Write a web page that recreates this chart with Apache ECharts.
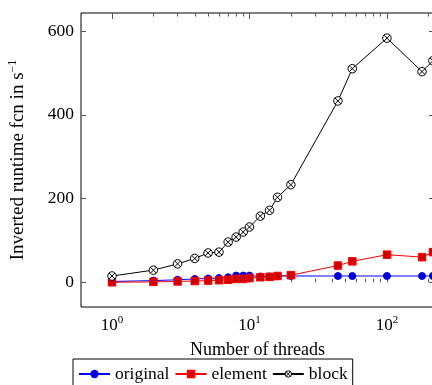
<!DOCTYPE html>
<html>
<head>
<meta charset="utf-8">
<script src="https://cdn.jsdelivr.net/npm/echarts@6/dist/echarts.min.js"></script>
<style>
  html, body { margin: 0; padding: 0; background: #fff; }
  #main { width: 432px; height: 385px; }
</style>
</head>
<body>
<div id="main"></div>
<script>
// data
var threads = [1, 2, 3, 4, 5, 6, 7, 8, 9, 10, 12, 14, 16, 20, 44, 56, 100, 180, 216];
var original = [2, 4, 6, 8, 9, 10, 12, 16, 16, 16, 14, 14, 15, 15, 15, 15, 15, 15, 15];
var element = [0, 1, 2, 3, 4, 5, 6, 8, 8, 10, 12, 13, 15, 17, 40, 50, 66, 60, 72];
var block = [15, 29, 44, 57, 70, 72, 96, 108, 120, 132, 158, 172, 203, 233, 433, 510, 583, 503, 529];
var xMajor = [1, 10, 100];
var xMinor = [2, 3, 4, 5, 6, 7, 8, 9, 20, 30, 40, 50, 60, 70, 80, 90, 200];
var yTicks = [0, 200, 400, 600];

function pairs(ys) {
  var out = [];
  for (var i = 0; i < threads.length; i++) out.push([threads[i], ys[i]]);
  return out;
}

var font = "'Liberation Serif', 'DejaVu Serif', serif";
var fs = 18;
var otimes = "path://M0,-10A10,10 0 1,1 0,10A10,10 0 1,1 0,-10Z M-7.07,-7.07L7.07,7.07 M-7.07,7.07L7.07,-7.07";
var xMin = 0.595, xMax = 220;
var yMin = -59, yMax = 643;

var chart = echarts.init(document.getElementById("main"));

// one x axis for labels + major ticks, copies for minor ticks and the top side
function xAxisOf(pos, ticks, len, labels) {
  return {
    type: "log",
    logBase: 10,
    position: pos,
    min: xMin,
    max: xMax,
    axisLine: { show: false },
    splitLine: { show: false },
    minorTick: { show: false },
    axisTick: {
      show: true,
      inside: true,
      length: len,
      customValues: ticks,
      lineStyle: { color: "#555", width: 1 },
    },
    axisLabel: labels
      ? {
          show: true,
          customValues: xMajor,
          margin: 8,
          fontFamily: font,
          fontSize: 17,
          color: "#000",
          formatter: function (v) {
            return "10{s|" + Math.round(Math.log10(v)) + "}";
          },
          rich: {
            s: { fontFamily: font, fontSize: 11, color: "#000", padding: [0, 0, 10, 0] },
          },
        }
      : { show: false },
    name: labels ? "Number of threads" : "",
    nameLocation: "middle",
    nameGap: 34,
    nameTextStyle: { fontFamily: font, fontSize: fs, color: "#000" },
  };
}

function yAxisOf(pos, labels) {
  return {
    type: "value",
    position: pos,
    min: yMin,
    max: yMax,
    axisLine: { show: false },
    splitLine: { show: false },
    axisTick: {
      show: true,
      inside: true,
      length: 5,
      customValues: yTicks,
      lineStyle: { color: "#555", width: 1 },
    },
    axisLabel: labels
      ? {
          show: true,
          customValues: yTicks,
          margin: 7,
          fontFamily: font,
          fontSize: 17.5,
          color: "#000",
        }
      : { show: false },
    name: labels ? "Inverted runtime fcn in s{s|−1}" : "",
    nameLocation: "middle",
    nameGap: 52,
    nameTextStyle: {
      fontFamily: font,
      fontSize: 19,
      color: "#000",
      rich: {
        s: { fontFamily: font, fontSize: 12, color: "#000", padding: [0, 0, 10, 0] },
      },
    },
  };
}

var option = {
  animation: false,
  backgroundColor: "#fff",
  grid: {
    left: 81,
    right: -2,
    top: 13,
    bottom: 78,
    outerBoundsMode: "none",
    containLabel: false,
    show: true,
    borderColor: "#000",
    borderWidth: 1,
    backgroundColor: "transparent",
  },
  xAxis: [
    xAxisOf("bottom", xMajor, 6, true),
    xAxisOf("bottom", xMinor, 3.5, false),
    xAxisOf("top", xMajor, 6, false),
    xAxisOf("top", xMinor, 3.5, false),
  ],
  yAxis: [yAxisOf("left", true), yAxisOf("right", false)],
  legend: {
    left: 73,
    top: 359,
    orient: "horizontal",
    itemWidth: 31,
    itemHeight: 8,
    itemGap: 5,
    padding: [6, 5, 8, 5],
    borderColor: "#000",
    borderWidth: 1,
    borderRadius: 0,
    textStyle: { fontFamily: font, fontSize: 17.5, color: "#000" },
    data: [
      "original",
      "element",
      { name: "block", itemStyle: { color: "#fff", borderColor: "#000", borderWidth: 1 } },
    ],
  },
  series: [
    {
      name: "original",
      type: "line",
      data: pairs(original),
      symbol: "circle",
      symbolSize: 7,
      lineStyle: { color: "#0000ff", width: 1 },
      itemStyle: { color: "#0000cc", borderColor: "#0000ff", borderWidth: 1 },
    },
    {
      name: "element",
      type: "line",
      data: pairs(element),
      symbol: "rect",
      symbolSize: 7.5,
      lineStyle: { color: "#ff0000", width: 1 },
      itemStyle: { color: "#cc0000", borderColor: "#ff0000", borderWidth: 1 },
    },
    {
      name: "block",
      type: "line",
      data: pairs(block),
      symbol: otimes,
      symbolSize: 8.5,
      lineStyle: { color: "#000", width: 1 },
      itemStyle: { color: "#fff", borderColor: "#000", borderWidth: 1 },
    },
  ],
};

chart.setOption(option);
</script>
</body>
</html>
